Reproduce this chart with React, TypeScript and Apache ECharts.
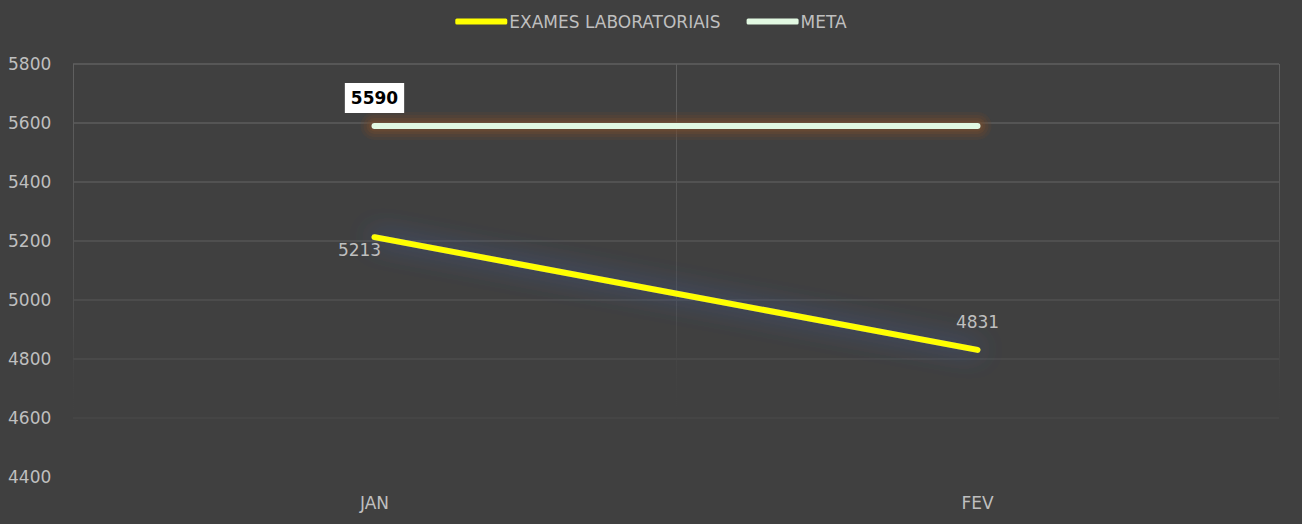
import React, { useEffect, useRef } from "react";
import * as echarts from "echarts";

const categories = ["JAN", "FEV"];
const examesValues = [5213, 4831];
const metaValues = [5590, 5590];
const yMin = 4400;
const yMax = 5800;
const yInterval = 200;

export default function App() {
  const ref = useRef<HTMLDivElement>(null);
  useEffect(() => {
    if (!ref.current) return;
    const chart = echarts.init(ref.current, null, { renderer: "svg" });
    const font = "'DejaVu Sans', sans-serif";
    const vGrad = new echarts.graphic.LinearGradient(
      0, 64, 0, 424,
      [
        { offset: 0, color: "#606060" },
        { offset: 0.7, color: "#4e4e4e" },
        { offset: 1, color: "rgba(64,64,64,0)" },
      ],
      true
    );
    const glowLayer = (width: number, color: string) => ({
      type: "line",
      data: metaValues,
      silent: true,
      symbol: "none",
      showSymbol: false,
      lineStyle: { color, width, cap: "round" },
      label: { show: false },
      tooltip: { show: false },
      z: 1,
    });
    chart.setOption({
      animation: false,
      backgroundColor: "#404040",
      textStyle: { fontFamily: font },
      legend: {
        top: 8,
        left: "center",
        icon: "roundRect",
        itemWidth: 52,
        itemHeight: 6,
        itemGap: 26,
        textStyle: { color: "#bfbfbf", fontSize: 17, fontFamily: font, padding: [0, 0, 0, -3] },
        data: ["EXAMES LABORATORIAIS", "META"],
      },
      grid: { left: 73, right: 23, top: 64, bottom: 47 },
      xAxis: {
        type: "category",
        data: categories,
        boundaryGap: true,
        axisLine: { show: false },
        axisTick: { show: false },
        axisLabel: { color: "#bfbfbf", fontSize: 17, margin: 17, fontFamily: font },
        splitLine: { show: true, lineStyle: { color: vGrad, width: 1 } },
      },
      yAxis: {
        type: "value",
        min: yMin,
        max: yMax,
        interval: yInterval,
        axisLine: { show: false },
        axisTick: { show: false },
        axisLabel: {
          color: "#bfbfbf",
          fontSize: 17,
          margin: 18,
          align: "left",
          padding: [0, 0, 0, -47],
          fontFamily: font,
          formatter: (v: number) => String(v),
        },
        splitLine: {
          show: true,
          lineStyle: {
            width: 1.5,
            color: ["rgba(0,0,0,0)", "#474747", "#4c4c4c", "#515151", "#555555", "#595959", "#5c5c5c", "#5f5f5f"],
          },
        },
      },
      series: [
        glowLayer(28, "rgba(110,72,45,0.18)"),
        glowLayer(22, "rgba(115,75,45,0.22)"),
        glowLayer(16, "rgba(120,78,45,0.28)"),
        glowLayer(11, "rgba(125,80,45,0.3)"),
        {
          name: "EXAMES LABORATORIAIS",
          type: "line",
          data: examesValues.map((v, i) => ({
            value: v,
            label:
              i === 0
                ? { position: "bottom", offset: [-15, -1] }
                : { position: "top", offset: [0, -14] },
          })),
          symbol: "circle",
          symbolSize: 0.01,
          showSymbol: true,
          color: "#FFFF00",
          itemStyle: { color: "#FFFF00" },
          lineStyle: {
            color: "#FFFF00",
            width: 6,
            cap: "round",
            shadowColor: "rgba(65,95,170,0.95)",
            shadowBlur: 26,
          },
          label: { show: true, color: "#bfbfbf", fontSize: 17, fontFamily: font },
          z: 3,
        },
        {
          name: "META",
          type: "line",
          data: metaValues.map((v, i) => ({
            value: v,
            label:
              i === 0
                ? {
                    show: true,
                    position: "top",
                    distance: 13,
                    backgroundColor: "#ffffff",
                    color: "#000000",
                    fontWeight: "bold",
                    fontSize: 17,
                    padding: [7, 6, 6, 6],
                    fontFamily: font,
                  }
                : { show: false },
          })),
          symbol: "circle",
          symbolSize: 0.01,
          showSymbol: true,
          color: "#E2F9E2",
          itemStyle: { color: "#E2F9E2" },
          lineStyle: { color: "#E2F9E2", width: 6, cap: "round" },
          label: { show: false },
          z: 2,
        },
      ],
    });
    return () => chart.dispose();
  }, []);
  return (
    <div
      ref={ref}
      style={{ position: "fixed", left: 0, top: 0, width: 1302, height: 524, background: "#404040" }}
    />
  );
}
